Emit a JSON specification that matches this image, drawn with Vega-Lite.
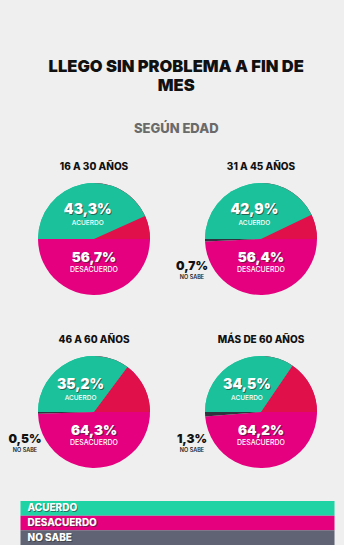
{
  "$schema": "https://vega.github.io/schema/vega-lite/v6.json",
  "background": "#efefef",
  "padding": {"left": 8, "right": 0, "top": 58, "bottom": 0},
  "spacing": 24,
  "center": true,
  "resolve": {"scale": {"color": "independent"}},
  "title": {
    "text": ["LLEGO SIN PROBLEMA A FIN DE", "MES"],
    "subtitle": "SEGÚN EDAD",
    "anchor": "middle",
    "font": "Inter",
    "fontSize": 16.5,
    "fontWeight": 900,
    "color": "#111111",
    "lineHeight": 19,
    "subtitleFont": "Inter",
    "subtitleFontSize": 13,
    "subtitleFontWeight": 800,
    "subtitleColor": "#6a6a6a",
    "subtitlePadding": 29,
    "offset": 26
  },
  "config": {
    "view": {"stroke": null},
    "locale": {"number": {"decimal": ",", "thousands": ".", "grouping": [3], "currency": ["", " €"]}},
    "header": {"labelFont": "Inter", "labelFontSize": 10, "labelFontWeight": 800, "labelColor": "#111111", "labelPadding": 2, "title": null}
  },
  "datasets": {
    "encuesta": [
      {"grupo": "16 A 30 AÑOS", "categoria": "ACUERDO", "valor": 0.433},
      {"grupo": "16 A 30 AÑOS", "categoria": "DESACUERDO", "valor": 0.567},
      {"grupo": "31 A 45 AÑOS", "categoria": "ACUERDO", "valor": 0.429},
      {"grupo": "31 A 45 AÑOS", "categoria": "DESACUERDO", "valor": 0.564},
      {"grupo": "31 A 45 AÑOS", "categoria": "NO SABE", "valor": 0.007},
      {"grupo": "46 A 60 AÑOS", "categoria": "ACUERDO", "valor": 0.352},
      {"grupo": "46 A 60 AÑOS", "categoria": "DESACUERDO", "valor": 0.643},
      {"grupo": "46 A 60 AÑOS", "categoria": "NO SABE", "valor": 0.005},
      {"grupo": "MÁS DE 60 AÑOS", "categoria": "ACUERDO", "valor": 0.345},
      {"grupo": "MÁS DE 60 AÑOS", "categoria": "DESACUERDO", "valor": 0.642},
      {"grupo": "MÁS DE 60 AÑOS", "categoria": "NO SABE", "valor": 0.013}
    ],
    "leyenda": [
      {"categoria": "ACUERDO"},
      {"categoria": "DESACUERDO"},
      {"categoria": "NO SABE"}
    ]
  },
  "vconcat": [
    {
      "data": {"name": "encuesta"},
      "columns": 2,
      "bounds": "flush",
      "spacing": {"column": 1, "row": 43},
      "facet": {"field": "grupo", "type": "nominal", "title": null, "sort": ["16 A 30 AÑOS", "31 A 45 AÑOS", "46 A 60 AÑOS", "MÁS DE 60 AÑOS"]},
      "spec": {
        "width": 166,
        "height": 130,
        "layer": [
          {
            "mark": {"type": "arc", "outerRadius": 56},
            "encoding": {
              "theta": {"field": "valor", "type": "quantitative", "stack": true, "scale": {"domain": [0, 1], "range": [4.71239, 10.99557]}},
              "color": {"field": "categoria", "type": "nominal", "legend": null, "scale": {"domain": ["ACUERDO", "DESACUERDO", "NO SABE"], "range": ["#1bc19a", "#e4007e", "#2f3340"]}},
              "order": {"field": "categoria"}
            }
          },
          {
            "transform": [{"filter": "datum.categoria === 'ACUERDO'"}],
            "mark": {"type": "arc", "outerRadius": 56, "fill": "#e0104a"},
            "encoding": {
              "theta": {"datum": 0.25, "type": "quantitative", "scale": {"domain": [0, 1], "range": [4.71239, 10.99557]}},
              "theta2": {"datum": 0.5}
            }
          },
          {
            "transform": [{"filter": "datum.categoria === 'ACUERDO'"}],
            "mark": {"type": "arc", "outerRadius": 56, "fill": "#1bc19a"},
            "encoding": {
              "theta": {"field": "valor", "type": "quantitative", "stack": true, "scale": {"domain": [0, 1], "range": [4.71239, 10.99557]}}
            }
          },
          {
            "transform": [{"filter": "datum.categoria === 'ACUERDO'"}],
            "mark": {"type": "text", "radius": 30, "dx": 1, "dy": 1, "font": "Inter", "fontSize": 14, "fontWeight": 900, "fill": "#2a2a2a", "opacity": 0.6},
            "encoding": {
              "theta": {"field": "valor", "type": "quantitative", "stack": true, "scale": {"domain": [0, 1], "range": [4.71239, 10.99557]}},
              "text": {"field": "valor", "format": ".1%"}
            }
          },
          {
            "transform": [{"filter": "datum.categoria === 'ACUERDO'"}],
            "mark": {"type": "text", "radius": 30, "font": "Inter", "fontSize": 14, "fontWeight": 900, "fill": "#ffffff"},
            "encoding": {
              "theta": {"field": "valor", "type": "quantitative", "stack": true, "scale": {"domain": [0, 1], "range": [4.71239, 10.99557]}},
              "text": {"field": "valor", "format": ".1%"}
            }
          },
          {
            "transform": [{"filter": "datum.categoria === 'ACUERDO'"}],
            "mark": {"type": "text", "radius": 30, "dy": 13, "font": "Inter", "fontSize": 6.5, "fontWeight": 500, "fill": "#ffffff"},
            "encoding": {
              "theta": {"field": "valor", "type": "quantitative", "stack": true, "scale": {"domain": [0, 1], "range": [4.71239, 10.99557]}},
              "text": {"field": "categoria"}
            }
          },
          {
            "transform": [{"filter": "datum.categoria === 'DESACUERDO'"}],
            "mark": {"type": "text", "dx": 1, "dy": 20, "font": "Inter", "fontSize": 13.5, "fontWeight": 900, "fill": "#2a2a2a", "opacity": 0.6},
            "encoding": {"text": {"field": "valor", "format": ".1%"}}
          },
          {
            "transform": [{"filter": "datum.categoria === 'DESACUERDO'"}],
            "mark": {"type": "text", "dy": 19, "font": "Inter", "fontSize": 13.5, "fontWeight": 900, "fill": "#ffffff"},
            "encoding": {"text": {"field": "valor", "format": ".1%"}}
          },
          {
            "transform": [{"filter": "datum.categoria === 'DESACUERDO'"}],
            "mark": {"type": "text", "dy": 31, "font": "Inter", "fontSize": 7, "fontWeight": 500, "fill": "#ffffff"},
            "encoding": {"text": {"field": "categoria"}}
          },
          {
            "transform": [{"filter": "datum.categoria === 'NO SABE'"}],
            "mark": {"type": "text", "dx": -69, "dy": 27, "font": "Inter", "fontSize": 12, "fontWeight": 900, "fill": "#111111"},
            "encoding": {"text": {"field": "valor", "format": ".1%"}}
          },
          {
            "transform": [{"filter": "datum.categoria === 'NO SABE'"}],
            "mark": {"type": "text", "dx": -69, "dy": 38, "font": "Inter", "fontSize": 5.5, "fontWeight": 600, "fill": "#222222"},
            "encoding": {"text": {"field": "categoria"}}
          }
        ]
      }
    },
    {
      "data": {"name": "leyenda"},
      "width": 314,
      "height": 44,
      "layer": [
        {
          "mark": {"type": "rect"},
          "encoding": {
            "y": {"field": "categoria", "type": "nominal", "axis": null, "scale": {"paddingInner": 0, "paddingOuter": 0}},
            "x": {"datum": 0, "type": "quantitative", "axis": null, "scale": {"domain": [0, 1]}},
            "x2": {"datum": 1},
            "color": {"field": "categoria", "type": "nominal", "legend": null, "scale": {"domain": ["ACUERDO", "DESACUERDO", "NO SABE"], "range": ["#1fd3a5", "#e5007e", "#5f6374"]}}
          }
        },
        {
          "mark": {"type": "text", "align": "left", "dx": 8, "dy": 1, "font": "Inter", "fontSize": 10, "fontWeight": 800, "fill": "#333333", "opacity": 0.6},
          "encoding": {
            "y": {"field": "categoria", "type": "nominal", "axis": null},
            "x": {"datum": 0, "type": "quantitative"},
            "text": {"field": "categoria"}
          }
        },
        {
          "mark": {"type": "text", "align": "left", "dx": 7, "font": "Inter", "fontSize": 10, "fontWeight": 800, "fill": "#ffffff"},
          "encoding": {
            "y": {"field": "categoria", "type": "nominal", "axis": null},
            "x": {"datum": 0, "type": "quantitative"},
            "text": {"field": "categoria"}
          }
        }
      ]
    }
  ]
}
